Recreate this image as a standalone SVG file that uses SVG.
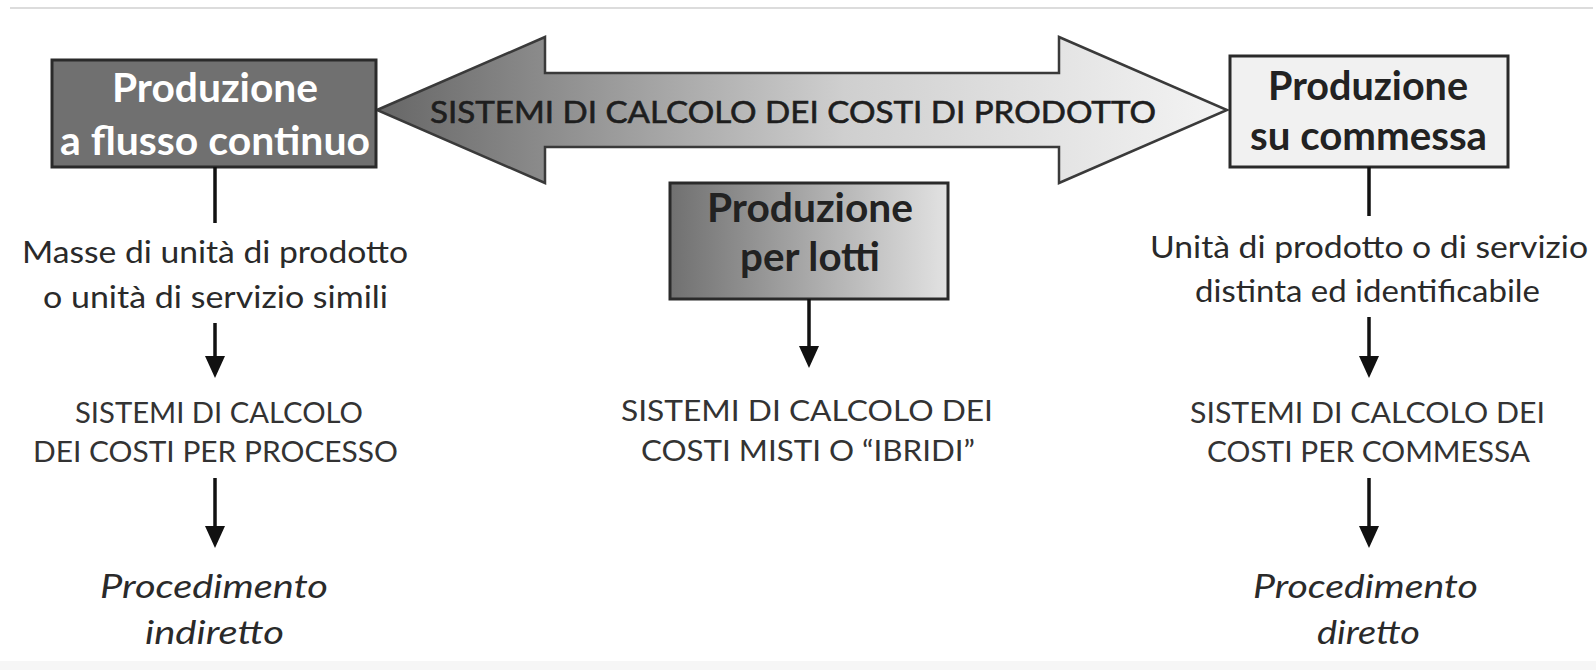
<svg xmlns="http://www.w3.org/2000/svg" width="1596" height="670" viewBox="0 0 1596 670">
  <defs>
    <linearGradient id="gArrow" x1="0" y1="0" x2="1" y2="0">
      <stop offset="0" stop-color="#666"/>
      <stop offset="0.55" stop-color="#cfcfcf"/>
      <stop offset="1" stop-color="#f4f4f4"/>
    </linearGradient>
    <linearGradient id="gMid" x1="0" y1="0" x2="1" y2="0">
      <stop offset="0" stop-color="#707070"/>
      <stop offset="1" stop-color="#e2e2e2"/>
    </linearGradient>
    <marker id="ah" markerWidth="22" markerHeight="20" refX="10" refY="10" orient="auto" markerUnits="userSpaceOnUse">
      <path d="M0,0 L22,10 L0,20 Z" fill="#111"/>
    </marker>
    <style>
      .box { stroke: #2a2a2a; stroke-width: 3; }
      .bt { font-family: Lato, "Open Sans", "Liberation Sans", sans-serif; font-weight: bold; font-size: 40px; }
      .lt { font-family: Lato, "Open Sans", "Liberation Sans", sans-serif; font-size: 31px; fill: #2a2a2a; }
      .up { font-family: Lato, "Open Sans", "Liberation Sans", sans-serif; font-size: 28px; fill: #333; }
      .it { font-family: Lato, "Open Sans", "Liberation Sans", sans-serif; font-size: 32px; font-style: italic; fill: #2a2a2a; }
      .ln { stroke: #111; stroke-width: 3.5; fill: none; }
    </style>
  </defs>

  <rect x="0" y="0" width="1596" height="670" fill="#fff"/>
  <line x1="10" y1="8" x2="1593" y2="8" stroke="#dcdcdc" stroke-width="2"/>
  <rect x="0" y="661" width="1596" height="9" fill="#f6f6f6"/>

  <g id="arrow-main">
    <path d="M377,110 L545,37 L545,73 L1059,73 L1059,37 L1227,110 L1059,183 L1059,147 L545,147 L545,183 Z" fill="url(#gArrow)" stroke="#3a3a3a" stroke-width="2.5" stroke-linejoin="miter"/>
    <text x="430" y="123" font-family="Lato, 'Open Sans', 'Liberation Sans', sans-serif" font-size="30" fill="#1e1e1e" stroke="#1e1e1e" stroke-width="0.6" textLength="726" lengthAdjust="spacingAndGlyphs">SISTEMI DI CALCOLO DEI COSTI DI PRODOTTO</text>
  </g>

  <g id="node-continuo">
    <rect class="box" x="52" y="60" width="324" height="107" fill="#707070"/>
    <text class="bt" x="112" y="102" fill="#fff" textLength="206" lengthAdjust="spacingAndGlyphs">Produzione</text>
    <text class="bt" x="60" y="155" fill="#fff" textLength="310" lengthAdjust="spacingAndGlyphs">a flusso continuo</text>
  </g>

  <g id="node-commessa">
    <rect class="box" x="1230" y="56" width="278" height="111" fill="#f1f1f1"/>
    <text class="bt" x="1268" y="100" fill="#222" textLength="200" lengthAdjust="spacingAndGlyphs">Produzione</text>
    <text class="bt" x="1250" y="150" fill="#222" textLength="237" lengthAdjust="spacingAndGlyphs">su commessa</text>
  </g>

  <g id="node-lotti">
    <rect class="box" x="670" y="183" width="278" height="116" fill="url(#gMid)"/>
    <text class="bt" x="707" y="222" fill="#222" textLength="206" lengthAdjust="spacingAndGlyphs">Produzione</text>
    <text class="bt" x="740" y="271" fill="#222" textLength="140" lengthAdjust="spacingAndGlyphs">per lotti</text>
  </g>

  <g id="node-left-desc">
    <text class="lt" x="22" y="263" textLength="386" lengthAdjust="spacingAndGlyphs">Masse di unità di prodotto</text>
    <text class="lt" x="43" y="308" textLength="345" lengthAdjust="spacingAndGlyphs">o unità di servizio simili</text>
  </g>
  <g id="node-left-sistemi">
    <text class="up" x="75" y="423" textLength="288" lengthAdjust="spacingAndGlyphs">SISTEMI DI CALCOLO</text>
    <text class="up" x="33" y="462" textLength="365" lengthAdjust="spacingAndGlyphs">DEI COSTI PER PROCESSO</text>
  </g>
  <g id="node-left-proc">
    <text class="it" x="100" y="598" textLength="228" lengthAdjust="spacingAndGlyphs">Procedimento</text>
    <text class="it" x="145" y="644" textLength="139" lengthAdjust="spacingAndGlyphs">indiretto</text>
  </g>

  <g id="node-mid-sistemi">
    <text class="up" x="621" y="421" textLength="372" lengthAdjust="spacingAndGlyphs">SISTEMI DI CALCOLO DEI</text>
    <text class="up" x="641" y="461" textLength="334" lengthAdjust="spacingAndGlyphs">COSTI MISTI O “IBRIDI”</text>
  </g>

  <g id="node-right-desc">
    <text class="lt" x="1150" y="258" textLength="438" lengthAdjust="spacingAndGlyphs">Unità di prodotto o di servizio</text>
    <text class="lt" x="1195" y="302" textLength="345" lengthAdjust="spacingAndGlyphs">distinta ed identificabile</text>
  </g>
  <g id="node-right-sistemi">
    <text class="up" x="1190" y="423" textLength="355" lengthAdjust="spacingAndGlyphs">SISTEMI DI CALCOLO DEI</text>
    <text class="up" x="1207" y="462" textLength="323" lengthAdjust="spacingAndGlyphs">COSTI PER COMMESSA</text>
  </g>
  <g id="node-right-proc">
    <text class="it" x="1253" y="598" textLength="225" lengthAdjust="spacingAndGlyphs">Procedimento</text>
    <text class="it" x="1317" y="644" textLength="103" lengthAdjust="spacingAndGlyphs">diretto</text>
  </g>

  <g id="connectors">
    <line class="ln" x1="215" y1="167" x2="215" y2="223"/>
    <line class="ln" x1="215" y1="323" x2="215" y2="366" marker-end="url(#ah)"/>
    <line class="ln" x1="215" y1="478" x2="215" y2="536" marker-end="url(#ah)"/>
    <line class="ln" x1="809" y1="299" x2="809" y2="356" marker-end="url(#ah)"/>
    <line class="ln" x1="1369" y1="167" x2="1369" y2="216"/>
    <line class="ln" x1="1369" y1="317" x2="1369" y2="366" marker-end="url(#ah)"/>
    <line class="ln" x1="1369" y1="478" x2="1369" y2="536" marker-end="url(#ah)"/>
  </g>
</svg>
